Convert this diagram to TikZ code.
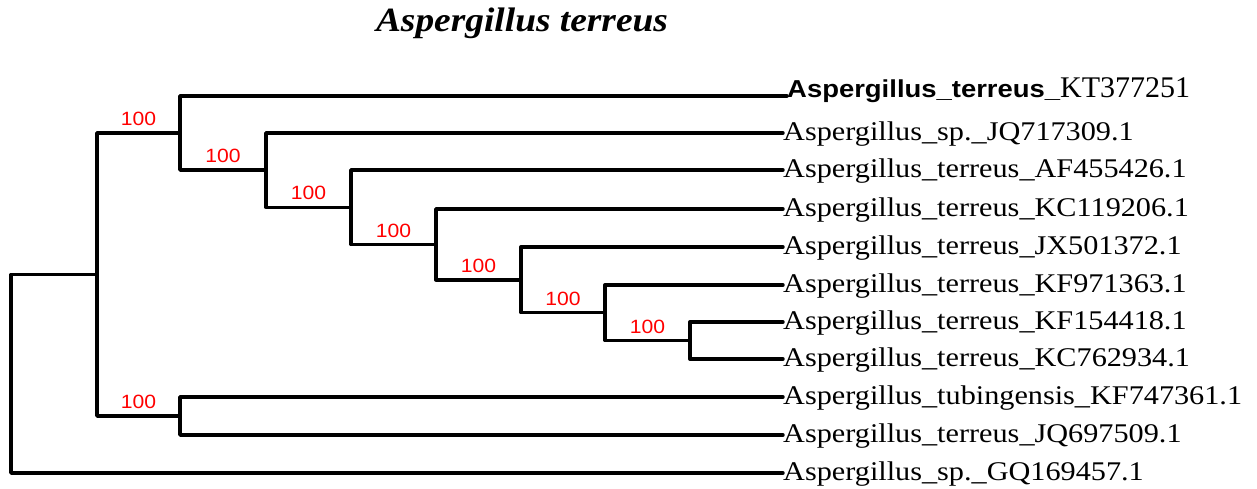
\documentclass[tikz,border=0pt]{standalone}
\usepackage{fontspec}
\setmainfont{Liberation Serif}
\newfontfamily\arialf{Liberation Sans}
\definecolor{bsred}{RGB}{255,0,0}
\begin{document}
\begin{tikzpicture}[x=1pt,y=-1pt,
  edge/.style={line width=3.4pt, line join=round, line cap=round},
  leaf/.style={anchor=base west, inner sep=0pt, font=\fontsize{27}{30}\selectfont},
  bs/.style={pos=0.75, anchor=south, inner sep=0pt, yshift=5.5pt, text=bsred,
    font=\arialf\fontsize{19.2}{21}\selectfont}]
\useasboundingbox (0,0) rectangle (1257,489);

\node[anchor=base, inner sep=0pt, font=\fontsize{34}{36}\selectfont\bfseries\itshape]
  (title) at (522,32) {\scalebox{1.1}[1]{Aspergillus terreus}};

% leaves
\node[leaf] (l1) at (787,98) {\scalebox{1.12}[1]{\arialf\bfseries\fontsize{24.5}{28}\selectfont Aspergillus\_terreus\_}{\fontsize{30}{32}\selectfont KT377251}};
\node[leaf] (l2) at (783,140.5) {\scalebox{1.12}[1]{Aspergillus\_sp.\_JQ717309.1}};
\node[leaf] (l3) at (783,177.5) {\scalebox{1.12}[1]{Aspergillus\_terreus\_AF455426.1}};
\node[leaf] (l4) at (783,216.5) {\scalebox{1.12}[1]{Aspergillus\_terreus\_KC119206.1}};
\node[leaf] (l5) at (783,254.5) {\scalebox{1.12}[1]{Aspergillus\_terreus\_JX501372.1}};
\node[leaf] (l6) at (783,292.5) {\scalebox{1.12}[1]{Aspergillus\_terreus\_KF971363.1}};
\node[leaf] (l7) at (783,329.5) {\scalebox{1.12}[1]{Aspergillus\_terreus\_KF154418.1}};
\node[leaf] (l8) at (783,366.5) {\scalebox{1.12}[1]{Aspergillus\_terreus\_KC762934.1}};
\node[leaf] (l9) at (783,404.5) {\scalebox{1.12}[1]{Aspergillus\_tubingensis\_KF747361.1}};
\node[leaf] (l10) at (783,442.5) {\scalebox{1.12}[1]{Aspergillus\_terreus\_JQ697509.1}};
\node[leaf] (l11) at (783,480.5) {\scalebox{1.12}[1]{Aspergillus\_sp.\_GQ169457.1}};

% internal nodes
\coordinate (R) at (11,373.75);
\coordinate (A) at (97,274.5);
\coordinate (B) at (180,133);
\coordinate (C) at (266,170.1);
\coordinate (D) at (351,207.2);
\coordinate (E) at (436,244.4);
\coordinate (F) at (521,279.9);
\coordinate (G) at (605,312.75);
\coordinate (H) at (690,340.5);
\coordinate (I) at (180,416);

% branches
\draw[edge] (R) |- (A);
\draw[edge] (R) |- ([yshift=7.5pt]l11.base west);
\draw[edge] (A) |- node[bs] {\scalebox{1.1}[1]{100}} (B);
\draw[edge] (A) |- node[bs] {\scalebox{1.1}[1]{100}} (I);
\draw[edge] (B) |- ([yshift=2pt]l1.base west);
\draw[edge] (B) |- node[bs] {\scalebox{1.1}[1]{100}} (C);
\draw[edge] (C) |- ([yshift=7.5pt]l2.base west);
\draw[edge] (C) |- node[bs] {\scalebox{1.1}[1]{100}} (D);
\draw[edge] (D) |- ([yshift=7.5pt]l3.base west);
\draw[edge] (D) |- node[bs] {\scalebox{1.1}[1]{100}} (E);
\draw[edge] (E) |- ([yshift=7.5pt]l4.base west);
\draw[edge] (E) |- node[bs] {\scalebox{1.1}[1]{100}} (F);
\draw[edge] (F) |- ([yshift=7.5pt]l5.base west);
\draw[edge] (F) |- node[bs] {\scalebox{1.1}[1]{100}} (G);
\draw[edge] (G) |- ([yshift=7.5pt]l6.base west);
\draw[edge] (G) |- node[bs] {\scalebox{1.1}[1]{100}} (H);
\draw[edge] (H) |- ([yshift=7.5pt]l7.base west);
\draw[edge] (H) |- ([yshift=7.5pt]l8.base west);
\draw[edge] (I) |- ([yshift=7.5pt]l9.base west);
\draw[edge] (I) |- ([yshift=7.5pt]l10.base west);
\end{tikzpicture}
\end{document}
